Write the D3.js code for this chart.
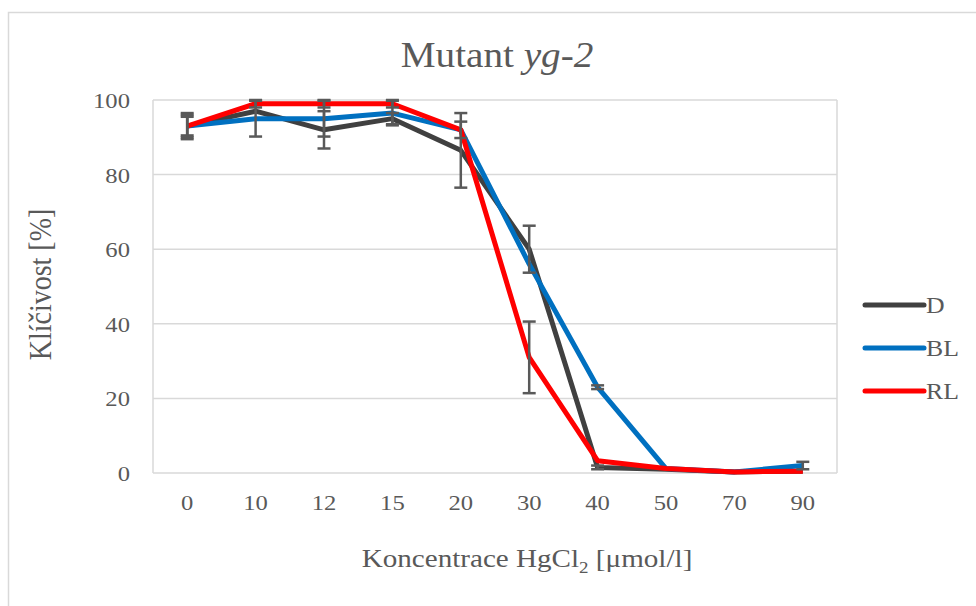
<!DOCTYPE html>
<html>
<head>
<meta charset="utf-8">
<script src="https://cdn.jsdelivr.net/npm/d3@7"></script>
<style>
  body { margin: 0; background: #fff; }
</style>
</head>
<body>
<svg id="chart"></svg>
<script>
let W = 976
let H = 606
// the original screenshot is a little wider than tall, text gets stretched the same way
let sx = 1.12
let serif = '"Liberation Serif"'

let categories = ["0", "10", "12", "15", "20", "30", "40", "50", "70", "90"]
let yTicks = [0, 20, 40, 60, 80, 100]
let seriesNames = ["D", "BL", "RL"]
let seriesColors = ["#404040", "#0070C0", "#FF0000"]

let valuesD = [93, 97, 92, 95, 86.5, 60, 1.5, 1, 0.3, 0.5]
let valuesBL = [93, 95, 95, 96.5, 92, 56, 23, 1.2, 0.3, 2]
let valuesRL = [93, 99, 99, 99, 92, 31, 3.3, 1.2, 0.3, 0.5]

let errD = [3.5, 0, 5, 1.5, 10, 6.3, 0.5, 0, 0, 0]
let errBL = [2.5, 4.8, 4.8, 3.3, 2.2, 0, 0.5, 0, 0, 1]
let errRL = [3, 1, 1, 1, 0, 9.6, 0, 0, 0, 0]

let series = [valuesD, valuesBL, valuesRL]
let errors = [errD, errBL, errRL]

let plot = { left: 153, right: 837, top: 100, bottom: 473 }

let svg = d3.select("#chart")
    .attr("width", W)
    .attr("height", H)

// chart frame (cut off at right and bottom like the original)
svg.append("path")
    .attr("d", `M8.5,${H + 2} V12.5 H${W + 2}`)
    .attr("fill", "none")
    .attr("stroke", "#d9d9d9")
    .attr("stroke-width", 1.5)

let x = d3.scaleBand()
    .domain(categories)
    .range([plot.left, plot.right])

let y = d3.scaleLinear()
    .domain([0, 100])
    .range([plot.bottom, plot.top])

// gridlines
let grid = svg.append("g")
grid.selectAll("line")
    .data(yTicks)
    .enter()
    .append("line")
    .attr("x1", plot.left)
    .attr("x2", plot.right)
    .attr("y1", d => y(d))
    .attr("y2", d => y(d))
grid.append("line")
    .attr("x1", plot.left).attr("x2", plot.left)
    .attr("y1", plot.top).attr("y2", plot.bottom)
grid.append("line")
    .attr("x1", plot.right).attr("x2", plot.right)
    .attr("y1", plot.top).attr("y2", plot.bottom)
grid.selectAll("line")
    .attr("stroke", "#d9d9d9")
    .attr("stroke-width", 1.5)

// axes (labels only)
let yAxis = svg.append("g")
    .attr("transform", `translate(${plot.left - 23},0)`)
    .call(d3.axisLeft(y).tickValues(yTicks).tickSize(0).tickPadding(0))
yAxis.select(".domain").remove()
yAxis.selectAll("text")
    .attr("x", 0)
    .attr("dy", "0.34em")
    .attr("transform", `scale(${sx},1)`)

let xAxis = svg.append("g")
    .attr("transform", `translate(0,${plot.bottom + 22})`)
    .call(d3.axisBottom(x).tickSize(0).tickPadding(0))
xAxis.select(".domain").remove()
xAxis.selectAll("text")
    .attr("y", 0)
    .attr("dy", "0.68em")
    .attr("transform", `scale(${sx},1)`)

svg.selectAll(".tick text")
    .style("font-size", "22px")

// lines
let line = d3.line()
    .x((d, i) => x(categories[i]) + x.bandwidth() / 2)
    .y(d => y(d))

svg.append("g").selectAll("path")
    .data(series)
    .enter()
    .append("path")
    .attr("d", line)
    .attr("fill", "none")
    .attr("stroke", (d, i) => seriesColors[i])
    .attr("stroke-width", 5)
    .attr("stroke-linejoin", "round")

// error bars
let errG = svg.append("g")
series.forEach((vals, s) => {
    vals.forEach((v, i) => {
        let e = errors[s][i]
        if (!e) return
        let cx = x(categories[i]) + x.bandwidth() / 2
        let y1 = y(v + e), y2 = y(v - e)
        errG.append("line")
            .attr("x1", cx).attr("x2", cx).attr("y1", y1).attr("y2", y2)
        errG.append("line")
            .attr("x1", cx - 6.5).attr("x2", cx + 6.5).attr("y1", y1).attr("y2", y1)
        errG.append("line")
            .attr("x1", cx - 6.5).attr("x2", cx + 6.5).attr("y1", y2).attr("y2", y2)
    })
})
errG.selectAll("line")
    .attr("stroke", "#595959")
    .attr("stroke-width", 2.5)

// title
let title = svg.append("text")
    .attr("transform", `translate(497,67) scale(${sx},1)`)
    .attr("text-anchor", "middle")
    .style("font-size", "35px")
title.append("tspan").text("Mutant ")
title.append("tspan").style("font-style", "italic").text("yg-2")

// axis titles
svg.append("text")
    .attr("transform", `translate(51,${(plot.top + plot.bottom) / 2 - 2}) rotate(-90) scale(1,${sx})`)
    .attr("text-anchor", "middle")
    .style("font-size", "28px")
    .text("Klíčivost [%]")

let xt = svg.append("text")
    .attr("transform", `translate(527,567) scale(${sx},1)`)
    .attr("text-anchor", "middle")
    .style("font-size", "26px")
xt.append("tspan").text("Koncentrace HgCl")
xt.append("tspan").style("font-size", "17px").attr("dy", 6).text("2")
xt.append("tspan").attr("dy", -6).text(" [μmol/l]")

// legend
let legend = svg.append("g")
    .selectAll("g")
    .data(seriesNames)
    .enter()
    .append("g")
    .attr("transform", (d, i) => `translate(865,${305 + i * 43})`)
legend.append("line")
    .attr("x1", 0).attr("x2", 59)
    .attr("stroke", (d, i) => seriesColors[i])
    .attr("stroke-width", 5)
    .attr("stroke-linecap", "round")
legend.append("text")
    .attr("transform", `translate(61,0) scale(${sx},1)`)
    .attr("dy", "0.34em")
    .style("font-size", "23px")
    .text(d => d)

svg.selectAll("text")
    .style("font-family", serif)
    .style("fill", "#595959")
</script>
</body>
</html>
